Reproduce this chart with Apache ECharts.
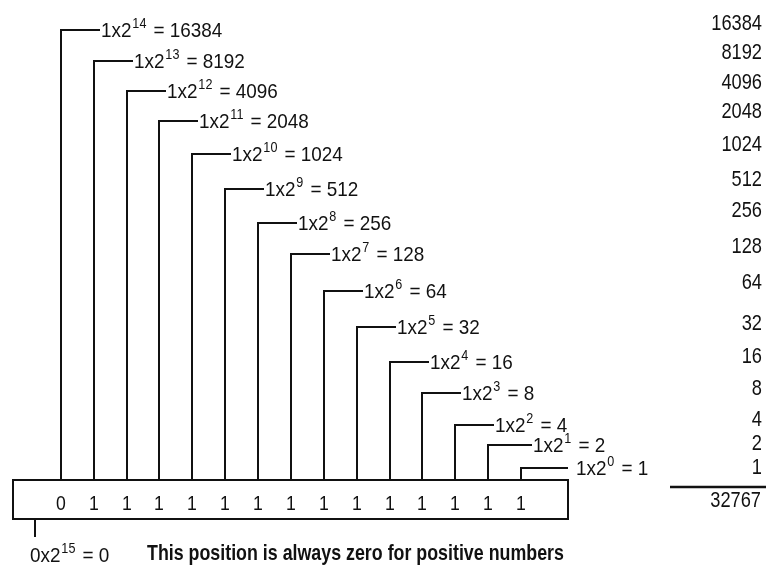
<!DOCTYPE html>
<html><head><meta charset="utf-8">
<script src="https://cdn.jsdelivr.net/npm/echarts@6/dist/echarts.min.js"></script>
<style>html,body{margin:0;padding:0;background:#fff}#c{width:766px;height:565px}</style>
</head><body><div id="c"></div>
<script>
// ---- data (as printed in the figure) ----
const exponents   = [15,14,13,12,11,10,9,8,7,6,5,4,3,2,1,0];
const bitValues   = [0,1,1,1,1,1,1,1,1,1,1,1,1,1,1,1];
const termValues  = [0,16384,8192,4096,2048,1024,512,256,128,64,32,16,8,4,2,1];
const boxDigits   = ['0','1','1','1','1','1','1','1','1','1','1','1','1','1','1']; // printed under bits 14..0
const total       = 32767;
const noteText    = 'This position is always zero for positive numbers';

// ---- layout / style (not data) ----
const FONT = "'Liberation Sans',Arial,sans-serif";
const INK = '#111';
const NARROW = 0.84;
const LAYOUT = {
  leaderLen: 39,
  leaderExtra: [0,0,0,0,0,0,0,0,0,0,0,0,0,5,8],
  textGap: [1,1,1,1,1,1,1,1,1,1,1,1,1,1,8],
  rowNudge: [0,-0.3,-1.6,-2.9,-1.1,2.6,5.3,5,10.7,15.4,19.1,18.9,19.6,8.3,0],
  sumNudge: [-8,-10,-10,-11,-11,-11,-14,-9,-10,-5,-7,-6,-7,-3,-2],
  sumRight: 762
};
const FS = 21, SFS = 14;
const rich = {
  m: {fontSize: FS, fontFamily: FONT, color: INK, lineHeight: 28},
  s: {fontSize: SFS, fontFamily: FONT, color: INK, verticalAlign: 'top', lineHeight: 16, padding: [0, 2, 0, 1]}
};
function labelText(i) {
  return '{m|' + bitValues[i] + 'x2}{s|' + exponents[i] + '}{m| = ' + termValues[i] + '}';
}
function txt(x, y, style, sx) {
  return {type: 'text', x: x, y: y, scaleX: sx || NARROW,
    style: Object.assign({x: 0, y: 0, fill: INK, verticalAlign: 'middle'}, style)};
}

const rowData = [];
for (let i = 1; i < exponents.length; i++) rowData.push([i, i - 1, i]);

const chart = echarts.init(document.getElementById('c'), null, {renderer: 'canvas'});
function boxGeom(api) {
  const left = Math.round(api.coord([0, 14])[0]) - 15;
  const right = Math.round(api.coord([15, 14])[0]) + 47;
  const top = Math.round(api.coord([0, 14])[1]) + 12;
  return {left, right, top, bottom: top + 39};
}
chart.setOption({
  animation: false,
  grid: {left: 28, width: 493, top: 30, height: 438},
  xAxis: {type: 'value', min: 0, max: 15, show: false},
  yAxis: {type: 'value', min: 0, max: 14, inverse: true, show: false},
  series: [{
    type: 'custom',
    clip: false,
    data: rowData,
    renderItem: function (params, api) {
      const i = api.value(2);
      const pt = api.coord([api.value(0), api.value(1)]);
      const x = Math.round(pt[0]);
      const y = Math.round(pt[1] + LAYOUT.rowNudge[i - 1]);
      const b = boxGeom(api);
      const ls = {stroke: INK, lineWidth: 2};
      const xe = x + LAYOUT.leaderLen + LAYOUT.leaderExtra[i - 1];
      return {type: 'group', children: [
        {type: 'line', shape: {x1: x, y1: b.top, x2: x, y2: y}, style: ls},
        {type: 'line', shape: {x1: x - 1, y1: y, x2: xe, y2: y}, style: ls},
        txt(xe + LAYOUT.textGap[i - 1], y + 1, {text: labelText(i), rich: rich, align: 'left'}, 0.9),
        txt(LAYOUT.sumRight, y + LAYOUT.sumNudge[i - 1] + 2,
          {text: String(termValues[i]), font: '22px ' + FONT, align: 'right'}, 0.83),
        txt(x, b.top + 24, {text: boxDigits[i - 1], font: FS + 'px ' + FONT, align: 'center'})
      ]};
    }
  }, {
    type: 'custom',
    clip: false,
    data: [[0, 14, 0]],
    renderItem: function (params, api) {
      const b = boxGeom(api);
      const x0 = Math.round(api.coord([0, 14])[0]) + 7;
      const ls = {stroke: INK, lineWidth: 2};
      return {type: 'group', children: [
        {type: 'rect', shape: {x: b.left, y: b.top, width: b.right - b.left, height: b.bottom - b.top},
          style: {fill: 'none', stroke: INK, lineWidth: 2}},
        {type: 'line', shape: {x1: x0, y1: b.bottom, x2: x0, y2: b.bottom + 18}, style: ls},
        txt(x0 - 5, b.bottom + 37, {text: labelText(0), rich: rich, align: 'left'}, 0.9),
        txt(147, b.bottom + 35, {text: noteText, font: 'bold 22px ' + FONT, align: 'left'}, 0.81),
        {type: 'line', shape: {x1: 670, y1: b.top + 7, x2: 766, y2: b.top + 7}, style: {stroke: INK, lineWidth: 2.5}},
        txt(LAYOUT.sumRight - 1, b.top + 21, {text: String(total), font: '22px ' + FONT, align: 'right'}, 0.83)
      ]};
    }
  }]
});
</script>
</body></html>
